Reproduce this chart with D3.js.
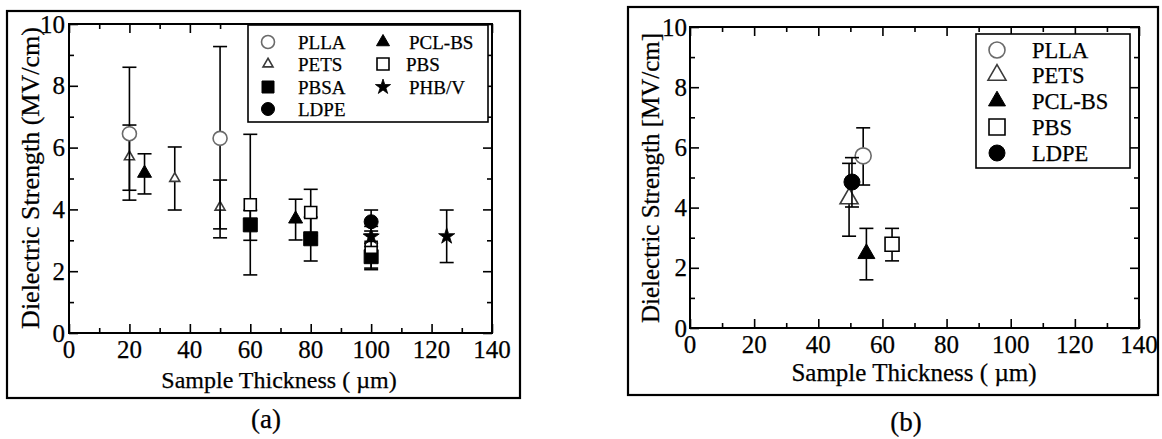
<!DOCTYPE html>
<html><head><meta charset="utf-8">
<script src="https://cdn.jsdelivr.net/npm/d3@7/dist/d3.min.js"></script>
<style>
html,body{margin:0;padding:0;background:#fff;}
svg{display:block;}
text{font-family:"Liberation Serif","Times New Roman",serif;fill:#000;stroke:#000;stroke-width:0.25px;}
</style></head>
<body>
<svg id="chart" width="1162" height="439"></svg>
<script>
// ---------- DATA ----------
// each point: [thickness (µm), strength (MV/cm), error low, error high]
const xTicks = [0, 20, 40, 60, 80, 100, 120, 140];
const yTicks = [0, 2, 4, 6, 8, 10];
const xMinor = [10, 30, 50, 70, 90, 110, 130];
const yMinor = [1, 3, 5, 7, 9];

// panel (a)
const PLLA_a  = [[20, 6.45, 4.3, 8.6], [50, 6.3, 3.37, 9.27]];
const PETS_a  = [[20, 5.7, 4.62, 6.73], [35, 5.0, 3.98, 6.02], [50, 4.07, 3.08, 4.95]];
const PBSA_a  = [[60, 3.5, 3.0, 3.97], [80, 3.05, 2.33, 3.75], [100, 2.47, 2.05, 2.9]];
const LDPE_a  = [[100, 3.6, 3.2, 3.98]];
const PCLBS_a = [[25, 5.17, 4.5, 5.8], [75, 3.69, 3.01, 4.33]];
const PBS_a   = [[60, 4.15, 1.88, 6.43], [80, 3.9, 3.15, 4.65], [100, 2.77, 2.1, 3.3]];
const PHBV_a  = [[100, 3.12, 2.8, 3.45], [125, 3.13, 2.28, 3.98]];

// panel (b)
const PLLA_b  = [[54, 5.72, 4.75, 6.65]];
const PETS_b  = [[49.6, 4.3, 3.05, 5.47]];
const PCLBS_b = [[55, 2.47, 1.6, 3.31]];
const PBS_b   = [[63, 2.78, 2.23, 3.31]];
const LDPE_b  = [[50.5, 4.85, 4.02, 5.66]];

const legendA_col1 = ["PLLA", "PETS", "PBSA", "LDPE"];
const legendA_col2 = ["PCL-BS", "PBS", "PHB/V"];
const legendB = ["PLLA", "PETS", "PCL-BS", "PBS", "LDPE"];

const xLabel = "Sample Thickness ( \u00b5m)";
const yLabelA = "Dielectric Strength (MV/cm)";
const yLabelB = "Dielectric Strength [MV/cm]";

// ---------- STYLE ----------
const markerStyles = {
  "PLLA":   {type: d3.symbolCircle,   fill: "#fff", stroke: "#6a6a6a", sw: 1.6},
  "PETS":   {type: d3.symbolTriangle, fill: "#fff", stroke: "#3a3a3a", sw: 1.6},
  "PBSA":   {type: d3.symbolSquare,   fill: "#000", stroke: "#000", sw: 1},
  "LDPE":   {type: d3.symbolCircle,   fill: "#000", stroke: "#000", sw: 1},
  "PCL-BS": {type: d3.symbolTriangle, fill: "#000", stroke: "#000", sw: 1},
  "PBS":    {type: d3.symbolSquare,   fill: "#fff", stroke: "#000", sw: 1.6},
  "PHB/V":  {type: d3.symbolStar,     fill: "#000", stroke: "#000", sw: 0.8}
};
function symSize(type, w) {
  if (type === d3.symbolCircle) return Math.PI * (w / 2) * (w / 2);
  if (type === d3.symbolSquare) return w * w;
  if (type === d3.symbolTriangle) return w * w * Math.sqrt(3) / 4;
  if (type === d3.symbolStar) return (w / 2) * (w / 2) / 0.8908130915292852;
  return w * w;
}

const svg = d3.select("#chart");

function drawPanel(cfg) {
  const g = svg.append("g");
  // outer frame
  g.append("rect").attr("x", cfg.frame[0]).attr("y", cfg.frame[1])
    .attr("width", cfg.frame[2] - cfg.frame[0]).attr("height", cfg.frame[3] - cfg.frame[1])
    .attr("fill", "none").attr("stroke", "#000").attr("stroke-width", 2.2);

  const x = d3.scaleLinear().domain([0, 140]).range([cfg.left, cfg.right]);
  const y = d3.scaleLinear().domain([0, 10]).range([cfg.bottom, cfg.top]);

  const axes = [
    [d3.axisBottom(x), `translate(0,${cfg.bottom})`, xTicks, xMinor],
    [d3.axisTop(x), `translate(0,${cfg.top})`, xTicks, xMinor],
    [d3.axisLeft(y), `translate(${cfg.left},0)`, yTicks, yMinor],
    [d3.axisRight(y), `translate(${cfg.right},0)`, yTicks, yMinor]
  ];
  axes.forEach(([ax, tr, maj, min]) => {
    const a = g.append("g").attr("transform", tr)
      .call(ax.tickValues(maj).tickSizeInner(-9).tickSizeOuter(0).tickFormat(""));
    a.select(".domain").remove();
    a.selectAll("line").attr("stroke", "#000").attr("stroke-width", 1.6);
    a.selectAll("text").remove();
    const m = g.append("g").attr("transform", tr)
      .call(ax.tickValues(min).tickSizeInner(-5).tickSizeOuter(0).tickFormat(""));
    m.select(".domain").remove();
    m.selectAll("line").attr("stroke", "#000").attr("stroke-width", 1.6);
    m.selectAll("text").remove();
  });
  // plot box
  g.append("rect").attr("x", cfg.left).attr("y", cfg.top)
    .attr("width", cfg.right - cfg.left).attr("height", cfg.bottom - cfg.top)
    .attr("fill", "none").attr("stroke", "#000").attr("stroke-width", 2);

  // tick labels
  g.selectAll(".xl").data(xTicks).enter().append("text")
    .attr("x", d => x(d)).attr("y", cfg.bottom + cfg.xlabDy)
    .attr("text-anchor", "middle").attr("font-size", cfg.tickFont).text(d => d);
  g.selectAll(".yl").data(yTicks).enter().append("text")
    .attr("x", cfg.left + cfg.ylabDx).attr("y", d => y(d)).attr("dy", "0.34em")
    .attr("text-anchor", "end").attr("font-size", cfg.tickFont).text(d => d);

  // axis titles
  g.append("text").attr("x", cfg.xTitle[0]).attr("y", cfg.xTitle[1])
    .attr("text-anchor", "middle").attr("font-size", cfg.titleFont).text(xLabel);
  g.append("text").attr("transform", `translate(${cfg.yTitle[0]},${cfg.yTitle[1]}) rotate(-90)`)
    .attr("text-anchor", "middle").attr("dy", "0.32em").attr("font-size", cfg.yTitleFont).text(cfg.yLabel);

  // panel label
  g.append("text").attr("x", cfg.panelLabel[0]).attr("y", cfg.panelLabel[1])
    .attr("text-anchor", "middle").attr("font-size", 27).text(cfg.panelText);

  // data
  cfg.series.forEach(([name, pts, w]) => {
    const st = markerStyles[name];
    pts.forEach(([px, py, lo, hi]) => {
      const cx = x(px);
      const eg = g.append("g").attr("stroke", "#000").attr("stroke-width", 1.6);
      eg.append("line").attr("x1", cx).attr("x2", cx).attr("y1", y(lo)).attr("y2", y(hi));
      [lo, hi].forEach(v => eg.append("line").attr("x1", cx - 7).attr("x2", cx + 7)
        .attr("y1", y(v)).attr("y2", y(v)));
      g.append("path").attr("d", d3.symbol().type(st.type).size(symSize(st.type, w))())
        .attr("transform", `translate(${cx},${y(py)})`)
        .attr("fill", st.fill).attr("stroke", st.stroke).attr("stroke-width", st.sw);
    });
  });

  // legend
  const L = cfg.legend;
  g.append("rect").attr("x", L.box[0]).attr("y", L.box[1])
    .attr("width", L.box[2] - L.box[0]).attr("height", L.box[3] - L.box[1])
    .attr("fill", "#fff").attr("stroke", "#000").attr("stroke-width", 1.6);
  L.items.forEach(([name, sx, sy, tx, w]) => {
    const st = markerStyles[name];
    g.append("path").attr("d", d3.symbol().type(st.type).size(symSize(st.type, w))())
      .attr("transform", `translate(${sx},${sy})`)
      .attr("fill", st.fill).attr("stroke", st.stroke).attr("stroke-width", st.sw);
    g.append("text").attr("x", tx).attr("y", sy).attr("dy", "0.35em")
      .attr("font-size", L.font).text(name);
  });
}

const rowsA = [42, 64, 87, 109];
const rowsB = [50, 75, 101, 127, 153];
const wA = {"PLLA": 13, "PETS": 10, "PBSA": 12, "LDPE": 13, "PCL-BS": 13, "PBS": 12, "PHB/V": 16};
const wB = {"PLLA": 16, "PETS": 18, "PCL-BS": 17, "PBS": 16, "LDPE": 16};

drawPanel({
  frame: [7, 11, 520, 398], left: 69, right: 492, top: 24, bottom: 333,
  tickFont: 25, titleFont: 24, yTitleFont: 26, xlabDy: 25, ylabDx: -4,
  xTitle: [279, 388], yTitle: [31, 178], yLabel: yLabelA,
  panelLabel: [266, 428], panelText: "(a)",
  series: [
    ["PBSA", PBSA_a, 14], ["PBS", PBS_a, 12], ["LDPE", LDPE_a, 14], ["PHB/V", PHBV_a, 17],
    ["PCL-BS", PCLBS_a, 14], ["PETS", PETS_a, 10], ["PLLA", PLLA_a, 14]
  ],
  legend: {
    box: [248, 25, 488, 122], font: 19,
    items: legendA_col1.map((n, i) => [n, 268, rowsA[i], 298, wA[n]])
      .concat(legendA_col2.map((n, i) => [n, 383, rowsA[i], n === "PBS" ? 406 : 409, wA[n]]))
  }
});

drawPanel({
  frame: [628, 7, 1158, 395], left: 690, right: 1139, top: 27, bottom: 328,
  tickFont: 25, titleFont: 25, yTitleFont: 25, xlabDy: 25, ylabDx: -3,
  xTitle: [914, 381], yTitle: [651, 178], yLabel: yLabelB,
  panelLabel: [906, 431], panelText: "(b)",
  series: [
    ["PCL-BS", PCLBS_b, 17], ["PBS", PBS_b, 14], ["PETS", PETS_b, 18],
    ["PLLA", PLLA_b, 16], ["LDPE", LDPE_b, 16]
  ],
  legend: {
    box: [976, 34, 1130, 168], font: 22.5,
    items: legendB.map((n, i) => [n, 997, rowsB[i], 1032, wB[n]])
  }
});
</script>
</body></html>
